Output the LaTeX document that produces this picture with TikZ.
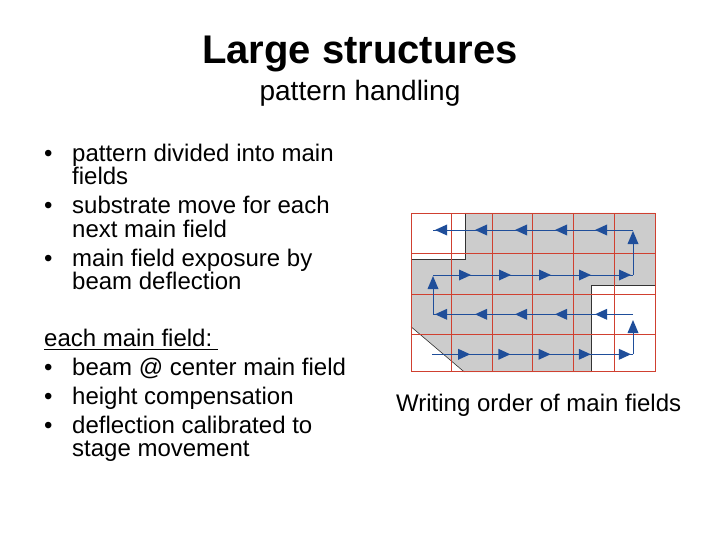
\documentclass[tikz,border=0pt]{standalone}
\usepackage{fontspec}
\setmainfont{Liberation Sans}
\usetikzlibrary{decorations.markings}
\definecolor{arr}{HTML}{1F4E9A}
\definecolor{grid}{HTML}{D04030}
\begin{document}
\begin{tikzpicture}[x=1pt,y=-1pt,
  txt/.style={anchor=base west,inner sep=0pt,font=\fontsize{24}{26}\selectfont},
  flow/.style={draw=arr,line width=0.8pt,postaction={decorate},
     decoration={markings,mark=between positions 0.17 and 0.99 step 0.2 with {\fill[arr] (4pt,0)--(-8pt,5.5pt)--(-8pt,-5.5pt)--cycle;}}}]
\useasboundingbox (0,0) rectangle (720,540);
\node[anchor=base,inner sep=0pt,font=\fontsize{40}{42}\selectfont\bfseries] (t) at (360,64) {Large structures};
\node[anchor=base,inner sep=0pt,font=\fontsize{28}{30}\selectfont] (st) at (360,101) {pattern handling};
\foreach \n/\y in {p1/162,p2/214,p3/266,q1/375,q2/404,q3/433}
  \node[txt] (\n) at (44,\y) {•};
\node[txt] (a1) at (72,162) {pattern divided into main};
\node[txt] (a2) at (72,185) {fields};
\node[txt] (a3) at (72,214) {substrate move for each};
\node[txt] (a4) at (72,237) {next main field};
\node[txt] (a5) at (72,266) {main field exposure by};
\node[txt] (a6) at (72,289) {beam deflection};
\node[txt] (b0) at (44,346) {each main field:};
\draw[line width=0.9pt] (44,349) -- (218,349);
\node[txt] (b1) at (72,375) {beam @ center main field};
\node[txt] (b2) at (72,404) {height compensation};
\node[txt] (b3) at (72,433) {deflection calibrated to};
\node[txt] (b4) at (72,456) {stage movement};
\node[txt] (cap) at (396,411) {Writing order of main fields};
% grey region
\fill[gray!40] (465,213) -- (655,213) -- (655,285) -- (591.7,285) -- (591.7,372) -- (464.3,372) -- (411,326.7) -- (411,259) -- (465,259) -- cycle;
\draw[black!80,line width=0.8pt] (411,259) -- (465,259) -- (465,213);
\draw[black!80,line width=0.8pt] (655,285) -- (591.7,285) -- (591.7,372);
\draw[black!80,line width=0.6pt] (411,326.7) -- (464.3,372);
\foreach \x in {411,451.7,492.3,532.7,573.3,614.3,655} \draw[grid,line width=0.7pt] (\x,213.3) -- (\x,371.7);
\foreach \y in {213.3,253.3,294.3,334.3,371.7} \draw[grid,line width=0.7pt] (411,\y) -- (655,\y);
\coordinate (r1a) at (633,230); \coordinate (r1b) at (433,230);
\coordinate (r2a) at (433,275); \coordinate (r2b) at (633,275);
\coordinate (r3a) at (633,314.3); \coordinate (r3b) at (433,314.3);
\coordinate (r4a) at (432,354.3); \coordinate (r4b) at (633,354.3);
\path[flow] (r1a) -- (r1b);
\path[flow] (r2a) -- (r2b);
\path[flow] (r3a) -- (r3b);
\path[flow] (r4a) -- (r4b);
\draw[arr,line width=1pt] (r4b) -- ++(0,-22);
\fill[arr] (633,320) -- (627.5,333) -- (638.5,333) -- cycle;
\draw[arr,line width=1pt] (r3b) -- ++(0,-32);
\fill[arr] (433,276) -- (427.5,289) -- (438.5,289) -- cycle;
\draw[arr,line width=1pt] (r2b) -- ++(0,-36);
\fill[arr] (633,231) -- (627.5,244) -- (638.5,244) -- cycle;
\end{tikzpicture}
\end{document}
